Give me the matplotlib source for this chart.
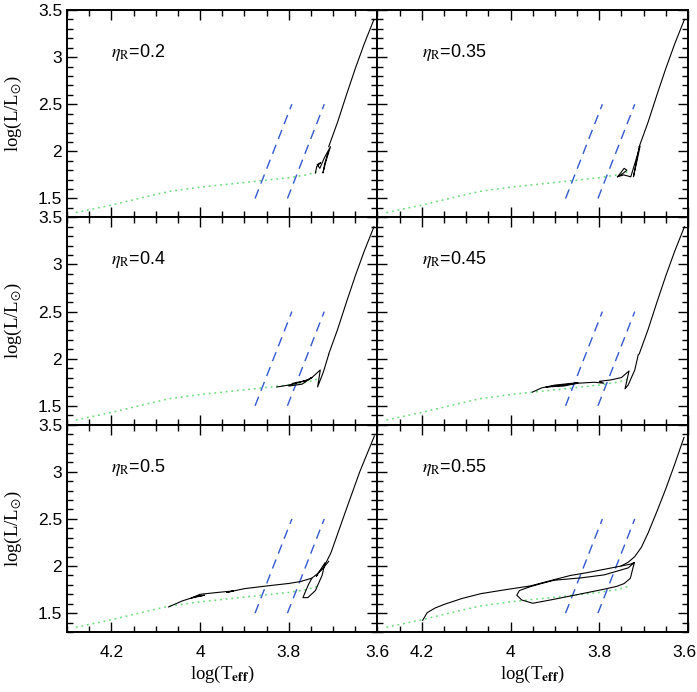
import matplotlib
matplotlib.use("Agg")
import matplotlib.pyplot as plt
import matplotlib.transforms as mtransforms
from matplotlib.ticker import MultipleLocator, FuncFormatter

# ---------------- data ----------------
eta_values = ["0.2", "0.35", "0.4", "0.45", "0.5", "0.55"]

# Zero-age horizontal branch (green dotted)
zahb_T = [4.28, 4.20, 4.12, 4.07, 4.00, 3.90, 3.80, 3.76, 3.73]
zahb_L = [1.35, 1.43, 1.52, 1.575, 1.62, 1.67, 1.72, 1.75, 1.79]

# Instability strip edges (blue dashed)
blue_edge_T = [3.876, 3.793]
blue_edge_L = [1.50, 2.50]
red_edge_T = [3.803, 3.720]
red_edge_L = [1.50, 2.50]

# Common AGB ascent
agb_T = [3.710, 3.690, 3.670, 3.650, 3.630, 3.608]
agb_L = [2.05, 2.31, 2.60, 2.88, 3.14, 3.40]

# Tracks (black)
trk02_T = [3.740, 3.737, 3.728, 3.736, 3.730, 3.720, 3.706, 3.716, 3.723, 3.719, 3.712]
trk02_L = [1.77, 1.84, 1.88, 1.86, 1.82, 1.93, 2.05, 1.90, 1.77, 1.87, 1.98]

trk035_T = [3.759, 3.752, 3.744, 3.738, 3.748, 3.759, 3.745, 3.729, 3.718, 3.708, 3.716, 3.723, 3.716, 3.710]
trk035_L = [1.73, 1.77, 1.82, 1.80, 1.76, 1.73, 1.75, 1.73, 1.90, 2.055, 1.88, 1.73, 1.90, 2.05]

trk04_T = [3.827, 3.800, 3.774, 3.755, 3.748, 3.770, 3.800, 3.790, 3.760, 3.748, 3.729, 3.735, 3.722, 3.710]
trk04_L = [1.70, 1.72, 1.75, 1.78, 1.80, 1.73, 1.71, 1.74, 1.77, 1.80, 1.88, 1.70, 1.86, 2.045]

trk045_T = [3.951, 3.930, 3.900, 3.870, 3.848, 3.880, 3.920, 3.880, 3.848, 3.811, 3.790, 3.800, 3.774, 3.750, 3.733,
            3.742, 3.735, 3.720, 3.712]
trk045_L = [1.645, 1.69, 1.72, 1.735, 1.745, 1.72, 1.70, 1.71, 1.74, 1.75, 1.74, 1.76, 1.775, 1.80, 1.87,
            1.68, 1.72, 1.88, 2.045]

trk05_T = [4.071, 4.040, 4.010, 3.990, 4.020, 4.000, 3.960, 3.925, 3.940, 3.900, 3.849, 3.800, 3.774, 3.748,
           3.756, 3.765, 3.768, 3.757, 3.740, 3.725, 3.718, 3.726, 3.738, 3.733, 3.722, 3.710]
trk05_L = [1.566, 1.63, 1.675, 1.69, 1.66, 1.70, 1.72, 1.736, 1.72, 1.76, 1.789, 1.815, 1.835, 1.871,
           1.80, 1.70, 1.665, 1.665, 1.74, 1.90, 2.037, 1.98, 1.89, 1.93, 1.98, 2.05]

trk055_T = [4.198, 4.188, 4.170, 4.149, 4.110, 4.067, 4.010, 3.955, 3.902, 3.865, 3.827, 3.789, 3.751, 3.730,
            3.721, 3.735, 3.789, 3.840, 3.902, 3.930, 3.955, 3.980, 3.986, 3.975, 3.950, 3.910, 3.864,
            3.825, 3.789, 3.760, 3.744, 3.730, 3.721]
trk055_L = [1.425, 1.505, 1.555, 1.594, 1.655, 1.707, 1.75, 1.789, 1.855, 1.90, 1.93, 1.965, 2.00, 2.02,
            2.037, 1.98, 1.906, 1.875, 1.849, 1.815, 1.782, 1.74, 1.69, 1.64, 1.605, 1.64, 1.683,
            1.72, 1.754, 1.785, 1.814, 1.87, 2.037]
agb055_T = [3.751, 3.735, 3.720, 3.705, 3.690, 3.670, 3.650, 3.630, 3.609]
agb055_L = [2.00, 2.04, 2.10, 2.20, 2.35, 2.58, 2.82, 3.08, 3.365]

agb05_T = [3.748, 3.735, 3.722, 3.705, 3.690, 3.669, 3.640, 3.607]
agb05_L = [1.871, 1.92, 1.98, 2.14, 2.34, 2.62, 3.00, 3.38]

tracks = [
    ([trk02_T], [trk02_L], True),
    ([trk035_T], [trk035_L], True),
    ([trk04_T], [trk04_L], True),
    ([trk045_T], [trk045_L], True),
    ([trk05_T, agb05_T], [trk05_L, agb05_L], False),
    ([trk055_T, agb055_T], [trk055_L, agb055_L], False),
]

# ---------------- figure ----------------
plt.rcParams['font.family'] = ['Liberation Sans', 'DejaVu Sans']
plt.rcParams['mathtext.fontset'] = 'stix'

fig, axes = plt.subplots(3, 2, figsize=(6.97, 6.92), dpi=100, sharex=True, sharey=True)
fig.subplots_adjust(left=67/697, right=688/697, top=1-10/692, bottom=1-632/692, wspace=0, hspace=0)

fmt = FuncFormatter(lambda v, p: f"{v:g}")

for i, ax in enumerate(axes.flat):
    ax.plot(zahb_T, zahb_L, color='#66dd77', ls=(0, (1.2, 2.5)), lw=1.1)
    ax.plot(blue_edge_T, blue_edge_L, color='#3358d0', ls=(0, (7, 4.5)), lw=1.0)
    ax.plot(red_edge_T, red_edge_L, color='#3358d0', ls=(0, (7, 4.5)), lw=1.0)
    Ts, Ls, use_agb = tracks[i]
    for T, L in zip(Ts, Ls):
        ax.plot(T, L, color='black', lw=0.8)
    if use_agb:
        ax.plot(agb_T, agb_L, color='black', lw=0.8)
    ax.text(4.2, 3.05, r'$\eta_{\rm R}$' + '=' + eta_values[i], fontsize=13, ha='left', va='center')

    ax.set_xlim(4.3, 3.6)
    ax.set_ylim(1.3, 3.5)
    ax.xaxis.set_major_locator(MultipleLocator(0.2))
    ax.xaxis.set_minor_locator(MultipleLocator(0.05))
    ax.yaxis.set_major_locator(MultipleLocator(0.5))
    ax.yaxis.set_minor_locator(MultipleLocator(0.1))
    ax.xaxis.set_major_formatter(fmt)
    ax.yaxis.set_major_formatter(fmt)
    ax.tick_params(which='both', direction='in', top=True, right=True, labelsize=12.5, width=1.0)
    ax.tick_params(which='major', length=7)
    ax.tick_params(which='minor', length=4)
    ax.tick_params(axis='x', pad=9)
    for s in ax.spines.values():
        s.set_linewidth(1.4)

for r in range(3):
    axes[r, 0].set_ylabel(r'log(L/L$_{\odot}$)', family='Liberation Serif', fontsize=13.5, labelpad=10)
    axes[r, 1].tick_params(labelleft=False)
for c in range(2):
    axes[2, c].set_xlabel(r'log(T$_{\mathbf{eff}}$)', family='Liberation Serif', fontsize=13.5, labelpad=3)

fig.canvas.draw()
# nudge the rightmost x tick label inside the figure
for lbl in axes[2, 1].get_xticklabels():
    if lbl.get_text() == '3.6':
        lbl.set_transform(lbl.get_transform() + mtransforms.ScaledTranslation(-4/100, 0, fig.dpi_scale_trans))

fig.savefig('out.png', dpi=100)
